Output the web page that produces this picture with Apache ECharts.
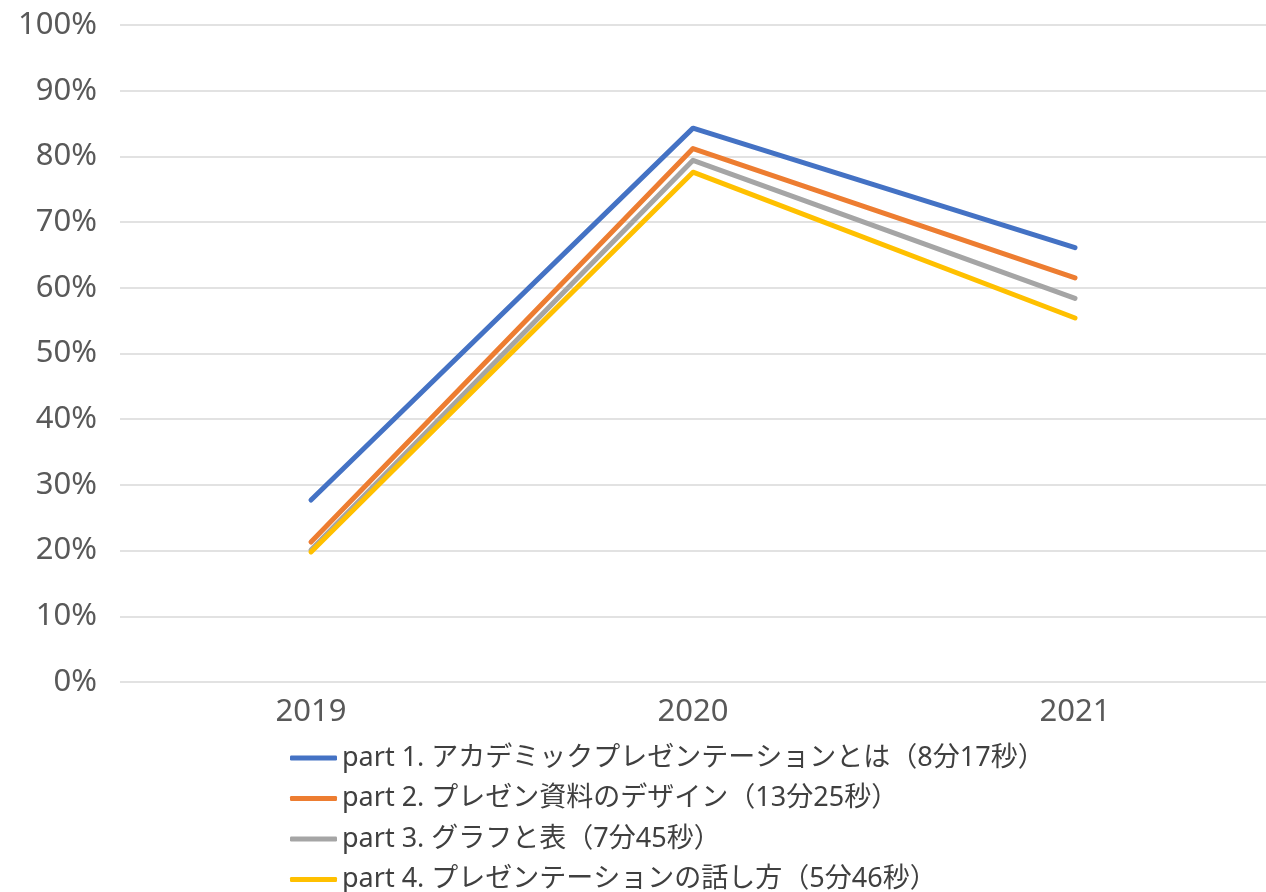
<!DOCTYPE html>
<html><head><meta charset="utf-8">
<script src="https://cdn.jsdelivr.net/npm/echarts@6/dist/echarts.min.js"></script>
<style>html,body{margin:0;padding:0;background:#fff}#c{width:1266px;height:892px}</style>
</head><body><div id="c"></div>
<script>
const categories = ['2019', '2020', '2021'];
const seriesNames = [
  'part 1. アカデミックプレゼンテーションとは（8分17秒）',
  'part 2. プレゼン資料のデザイン（13分25秒）',
  'part 3. グラフと表（7分45秒）',
  'part 4. プレゼンテーションの話し方（5分46秒）'
];
const part1 = [27.7, 84.3, 66.1];
const part2 = [21.3, 81.2, 61.5];
const part3 = [20.1, 79.4, 58.4];
const part4 = [19.8, 77.6, 55.4];
const colors = ['#4472C4', '#ED7D31', '#A5A5A5', '#FFC000'];
const allData = [part1, part2, part3, part4];
const FONT = '"Noto Sans", "Noto Sans CJK JP", sans-serif';

const chart = echarts.init(document.getElementById('c'));
chart.setOption({
  animation: false,
  textStyle: { fontFamily: FONT },
  grid: { left: 120, right: 0, top: 25, bottom: 210, containLabel: false },
  legend: {
    orient: 'vertical', left: 290, top: 743, height: 300, padding: 0,
    icon: 'roundRect', itemWidth: 47, itemHeight: 5, itemGap: 10.5,
    textStyle: { fontSize: 27, color: '#404040', lineHeight: 30, fontFamily: FONT },
    data: seriesNames
  },
  xAxis: {
    type: 'category', data: categories, boundaryGap: true,
    axisLine: { show: false }, axisTick: { show: false },
    axisLabel: { fontSize: 31, color: '#595959', margin: 15, fontFamily: FONT }
  },
  yAxis: {
    type: 'value', min: 0, max: 100, interval: 10,
    axisLine: { show: false }, axisTick: { show: false },
    axisLabel: { fontSize: 31, color: '#595959', margin: 23, formatter: '{value}%', fontFamily: FONT },
    splitLine: { lineStyle: { color: '#D9D9D9', width: 1.5 } }
  },
  series: allData.map((d, i) => ({
    name: seriesNames[i], type: 'line', data: d, symbol: 'none',
    lineStyle: { width: 5, color: colors[i], cap: 'round', join: 'round' },
    itemStyle: { color: colors[i] }
  }))
});
</script></body></html>
